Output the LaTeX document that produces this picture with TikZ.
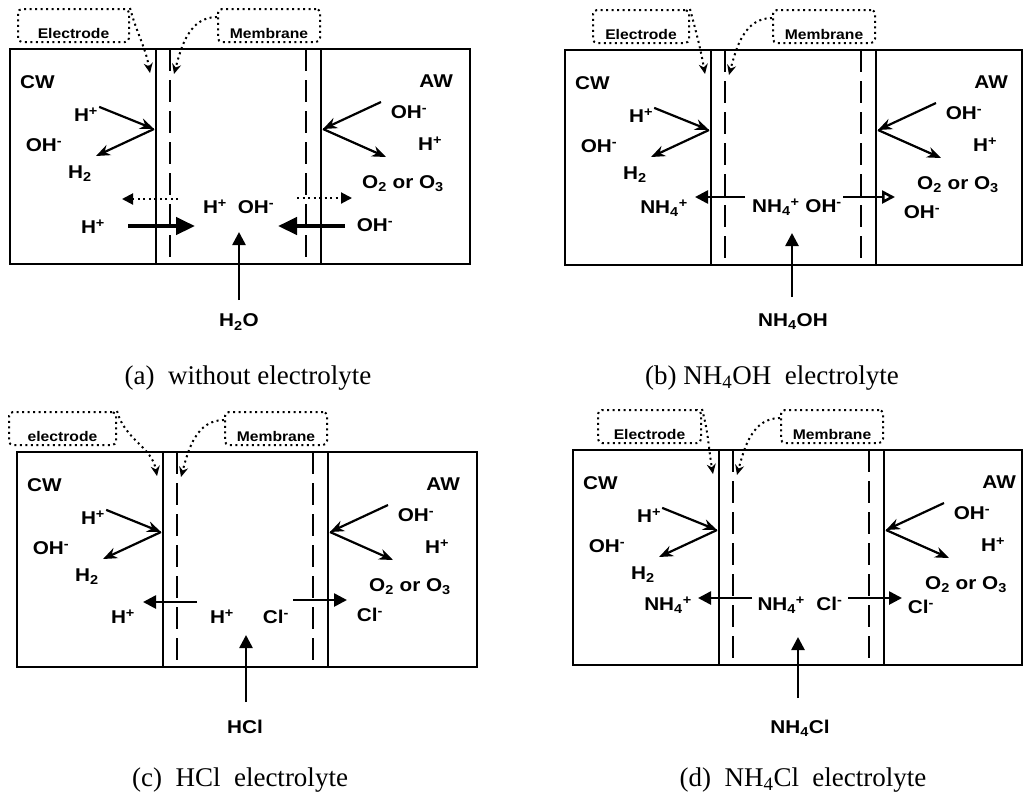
\documentclass[tikz,border=0pt]{standalone}
\usepackage{fontspec}
\setmainfont{Liberation Serif}
\newfontfamily\ionfont[FakeStretch=1.12]{Liberation Sans}
\usetikzlibrary{arrows.meta,positioning}

\begin{document}
\begin{tikzpicture}[x=1pt, y=-1pt,
  wall/.style={line width=2.6pt},
  memb/.style={line width=2.6pt, dash pattern=on 22pt off 9pt},
  ion/.style={font=\ionfont\bfseries\fontsize{18.5}{20}\selectfont, inner sep=1pt},
  tag/.style={draw, line width=2pt, dash pattern=on 2pt off 3.5pt, rounded corners=4pt,
    font=\ionfont\bfseries\fontsize{14}{16}\selectfont, text height=27pt, text depth=1pt,
    inner ysep=2.5pt, inner xsep=2pt, anchor=north west},
  lead/.style={line width=2pt, dash pattern=on 2pt off 3.5pt, -{Stealth[length=10pt,width=9pt]}},
  rxn/.style={line width=2.2pt, -{Stealth[length=14pt,width=11pt]}},
  drift/.style={line width=2.6pt, -{Triangle[length=13pt,width=13pt]}},
  flux/.style={line width=4.5pt, -{Triangle[length=19pt,width=17pt]}},
  weak/.style={line width=2pt, dash pattern=on 2pt off 3.5pt, -{Triangle[length=11pt,width=11pt]}},
  captext/.style={font=\fontsize{27}{30}\selectfont, inner sep=0pt}]
  \useasboundingbox (0,0) rectangle (1024,796);

  % Common cell: walls, electrodes, membranes and electrode reactions
  \foreach \p/\px/\py/\bw/\ex/\ew/\et in {a/10/49/460/7/111/Electrode,
      b/565/50/457/27/96/Electrode, c/17/452/460/-9/107/electrode,
      d/573/450/449/24/103/Electrode}{
  \begin{scope}[shift={(\px,\py)}, name prefix=\p-]
    \draw[wall] (0,0) rectangle (\bw,215);
    \draw[wall] (146,0) -- (146,215);
    \draw[wall] (311,0) -- (311,215);
    \draw[memb] (160,0) -- (160,215);
    \draw[memb] (296,0) -- (296,215);
    % dotted labels
    \node[tag, minimum width=\ew pt] (etag) at (\ex,-41) {\et};
    \node[tag, minimum width=102pt] (mtag) at (207,-41) {Membrane};
    \coordinate (etip) at (140,24);
    \coordinate (mtip) at (164,25);
    \draw[lead] (etag.north east) to[out=-75,in=100] (etip);
    \draw[lead] ([yshift=-9pt]mtag.north west) to[out=180,in=75] (mtip);
    % electrode reactions
    \node[ion, anchor=west] (cw) at (9,33) {CW};
    \node[ion, anchor=east] (aw) at (444,32) {AW};
    \node[ion] (hc) at (76,66) {H\textsuperscript{+}};
    \node[ion] (ohc) at (34,96) {OH\textsuperscript{-}};
    \node[ion] (htwo) at (70,125) {H\textsubscript{2}};
    \node[ion] (oha) at (399,63) {OH\textsuperscript{-}};
    \node[ion] (ha) at (420,95) {H\textsuperscript{+}};
    \node[ion] (oxy) at (393,135) {O\textsubscript{2} or O\textsubscript{3}};
    \coordinate (cat) at (144,80);
    \coordinate (ano) at (313,80);
    \coordinate (cout) at (86,107);
    \coordinate (ain) at (371,53);
    \coordinate (aout) at (376,108);
    \draw[rxn] (hc.north east) -- (cat);
    \draw[rxn] (cat) -- (cout);
    \draw[rxn] (ain) -- (ano);
    \draw[rxn] (ano) -- (aout);
  \end{scope}}

  % (a) without electrolyte
  \begin{scope}[shift={(10,49)}, name prefix=a-]
    \node[ion] (hl) at (83,178) {H\textsuperscript{+}};
    \node[ion] (hm) at (205,158) {H\textsuperscript{+}};
    \node[ion] (ohm) at (246,158) {OH\textsuperscript{-}};
    \node[ion] (ohr) at (365,176) {OH\textsuperscript{-}};
    \node[ion] (feed) at (229,273) {H\textsubscript{2}O};
    \coordinate (w1) at (168,150); \coordinate (w2) at (112,150);
    \coordinate (w3) at (287,149); \coordinate (w4) at (342,149);
    \coordinate (f1) at (118,177); \coordinate (f2) at (185,177);
    \coordinate (f3) at (335,177); \coordinate (f4) at (268,177);
    \coordinate (src) at (229,251); \coordinate (up) at (229,183);
    \draw[weak] (w1) -- (w2);
    \draw[weak] (w3) -- (w4);
    \draw[flux] (f1) -- (f2);
    \draw[flux] (f3) -- (f4);
    \draw[drift] (src) -- (up);
  \end{scope}

  % (b) NH4OH electrolyte
  \begin{scope}[shift={(565,50)}, name prefix=b-]
    \node[ion] (nl) at (99,158) {NH\textsubscript{4}\textsuperscript{+}};
    \node[ion] (mid) at (232,157) {NH\textsubscript{4}\textsuperscript{+} OH\textsuperscript{-}};
    \node[ion] (ohr) at (357,162) {OH\textsuperscript{-}};
    \node[ion] (feed) at (228,272) {NH\textsubscript{4}OH};
    \coordinate (l1) at (180,147); \coordinate (l2) at (130,147);
    \coordinate (r1) at (278,147); \coordinate (r2) at (330,147);
    \coordinate (src) at (227,247); \coordinate (up) at (227,183);
    \draw[drift] (l1) -- (l2);
    \draw[drift, -{Triangle[open,length=13pt,width=13pt]}] (r1) -- (r2);
    \draw[drift] (src) -- (up);
  \end{scope}

  % (c) HCl electrolyte
  \begin{scope}[shift={(17,452)}, name prefix=c-]
    \node[ion] (hl) at (106,165) {H\textsuperscript{+}};
    \node[ion] (hm) at (205,165) {H\textsuperscript{+}};
    \node[ion] (clm) at (259,165) {Cl\textsuperscript{-}};
    \node[ion] (clr) at (353,163) {Cl\textsuperscript{-}};
    \node[ion] (feed) at (228,275) {HCl};
    \coordinate (l1) at (180,150); \coordinate (l2) at (126,150);
    \coordinate (r1) at (276,148); \coordinate (r2) at (330,148);
    \coordinate (src) at (229,250); \coordinate (up) at (229,183);
    \draw[drift] (l1) -- (l2);
    \draw[drift] (r1) -- (r2);
    \draw[drift] (src) -- (up);
  \end{scope}

  % (d) NH4Cl electrolyte
  \begin{scope}[shift={(573,450)}, name prefix=d-]
    \node[ion] (nl) at (95,155) {NH\textsubscript{4}\textsuperscript{+}};
    \node[ion] (mid) at (227,155) {NH\textsubscript{4}\textsuperscript{+}\ \ Cl\textsuperscript{-}};
    \node[ion] (clr) at (348,157) {Cl\textsuperscript{-}};
    \node[ion] (feed) at (227,278) {NH\textsubscript{4}Cl};
    \coordinate (l1) at (179,148); \coordinate (l2) at (125,148);
    \coordinate (r1) at (275,148); \coordinate (r2) at (329,148);
    \coordinate (src) at (225,248); \coordinate (up) at (225,187);
    \draw[drift] (l1) -- (l2);
    \draw[drift] (r1) -- (r2);
    \draw[drift] (src) -- (up);
  \end{scope}

  % Captions
  \node[captext] (capa) at (248,378) {(a)\ \ without electrolyte};
  \node[captext] (capb) at (772,378) {(b)\ NH\textsubscript{4}OH\ \ electrolyte};
  \node[captext] (capc) at (240,780) {(c)\ \ HCl\ \ electrolyte};
  \node[captext] (capd) at (803,780) {(d)\ \ NH\textsubscript{4}Cl\ \ electrolyte};
\end{tikzpicture}
\end{document}
